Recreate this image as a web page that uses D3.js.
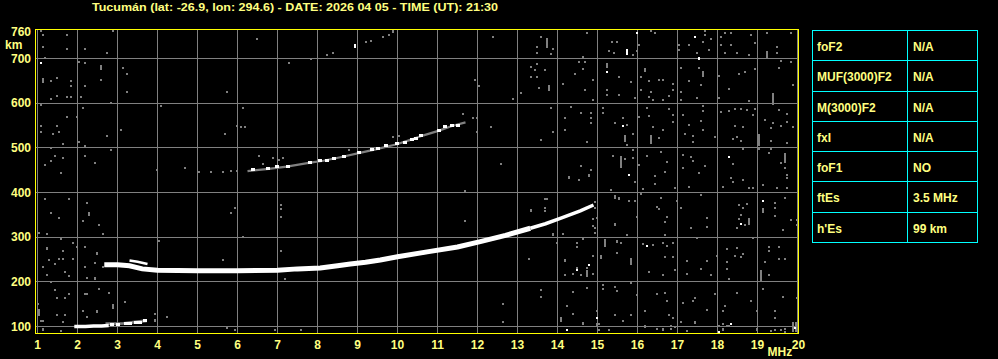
<!DOCTYPE html>
<html><head><meta charset="utf-8">
<script src="https://cdn.jsdelivr.net/npm/d3@7"></script>
<style>
html,body{margin:0;padding:0;background:#000;overflow:hidden}
svg{display:block}
text{font-family:"Liberation Sans",Arial,sans-serif;font-weight:bold;fill:#ffff80}
</style></head><body>
<svg id="c" width="998" height="359"></svg>
<script>
// ---------- DATA ----------
const title = "Tucumán (lat: -26.9, lon: 294.6) - DATE: 2026 04 05 - TIME (UT): 21:30";
const freqTicks = [1,2,3,4,5,6,7,8,9,10,11,12,13,14,15,16,17,18,19,20];
const heightTicks = [100,200,300,400,500,600,700,760];
const gridHeights = [100,200,300,400,500,600,700];
const freqUnit = "MHz";
const heightUnit = "km";

const tableLabels = ["foF2","MUF(3000)F2","M(3000)F2","fxI","foF1","ftEs","h'Es"];
const tableValues = ["N/A","N/A","N/A","N/A","NO","3.5 MHz","99 km"];

// F-layer first-hop trace (MHz, km)
const fTraceFreq   = [2.67,3.0,3.3,3.62,4.0,5.0,6.0,7.0,7.5,8.07,8.5,8.82,9.2,9.57,10.0,10.74,11.5,12.07,12.7,13.32,13.7,14.07,14.57,14.9];
const fTraceHeight = [238,238,236,229,226,225,225,226,229,231,236,240,244,249,256,267,278,290,304,320,330,342,359,372];
// short upper branch near the start of the F trace
const fBranchFreq   = [3.3,3.5,3.75];
const fBranchHeight = [248,245,240];
// second-hop trace
const f2TraceFreq   = [6.25,6.78,7.23,7.82,8.15,8.57,9.03,9.48,9.98,10.36,10.65,11.02,11.36,11.7];
const f2TraceHeight = [448,453,458,467,471,479,488,497,508,519,528,538,549,557];
const f2EchoFreq   = [6.38,6.76,6.99,7.25,7.82,8.05,8.23,8.4,8.65,9.03,9.36,9.52,9.71,9.98,10.18,10.36,10.46,10.58,11.03,11.19,11.36,11.5];
const f2EchoHeight = [450,453,456,458,467,471,471,476,480,488,495,498,503,509,511,517,520,526,538,546,549,550];
// sporadic E trace
const esFreq   = [1.92,2.0,2.2,2.4,2.6,2.78];
const esHeight = [100,100,100,101,101,102];
const esFringeFreq   = [2.7,2.95,3.15,3.35,3.55,3.73];
const esFringeHeight = [106,106,107,109,111,113];
const esEchoFreq   = [2.85,3.0,3.2,3.32,3.45,3.55,3.68];
const esEchoHeight = [103,104,106,105,108,107,113];

// scattered noise (MHz, km)
const noiseDots = [
[1.09,762],[1.14,753],[1.74,753],[2.89,762],[1.14,726],[1.74,722],[2.19,722],[2.74,713],[1.19,701],[2.04,693],[2.19,690],[3.14,679],[3.24,665],[1.34,649],[1.49,656],[1.84,649],[1.84,638],[2.19,638],[2.59,652],[3.24,626],[1.34,609],[1.49,616],[1.74,614],[1.84,613],[2.09,613],[2.84,601],[1.09,595],[2.14,589],[4.09,594],[5.74,626],[6.49,744],[7.29,689],[7.84,699],[8.24,708],[8.39,713],[9.22,737],[9.34,740],[9.64,749],[9.79,753],[12.39,749],[6.14,589],[5.99,549],[6.09,546],[6.19,546],[5.69,531],[1.74,568],[1.99,568],[1.09,549],[1.49,549],[1.09,536],[1.39,531],[1.54,536],[2.74,527],[3.09,540],[2.04,513],[2.19,504],[1.34,500],[1.64,509],[1.44,482],[1.64,477],[2.19,482],[1.34,470],[1.19,462],[2.44,465],[2.84,495],[1.59,443],[3.99,451],[4.69,454],[5.04,446],[5.34,445],[5.64,446],[5.84,449],[5.99,449],[11.94,652],[12.04,638],[11.89,567],[11.99,567],[12.34,546],[11.99,536],[12.59,464],[11.64,576],[9.89,524],[10.04,527],[8.79,495],[6.54,482],[6.89,477],[7.14,477],[7.04,473],[6.64,464],
[13.58,748],[13.48,726],[13.48,713],[13.83,711],[13.88,722],[14.73,757],[15.37,738],[15.48,738],[15.28,717],[15.40,713],[15.88,708],[15.98,717],[16.33,762],[16.43,757],[16.03,731],[17.68,762],[17.68,753],[17.83,744],[17.63,738],[17.03,731],[17.03,719],[17.28,731],[17.48,713],[17.78,719],[18.08,748],[18.18,757],[18.33,757],[18.08,731],[18.33,731],[18.18,713],[18.48,713],[18.83,753],[18.93,735],[18.78,708],[19.23,757],[19.48,726],[19.48,713],[19.83,757],[19.58,695],[19.83,693],[13.48,687],[13.33,680],[13.43,674],[13.68,674],[13.33,658],[13.48,658],[13.53,634],[12.88,610],[13.08,622],[14.63,704],[14.53,693],[14.68,693],[14.63,677],[14.43,666],[14.88,652],[14.68,629],[14.13,643],[14.88,607],[15.53,658],[15.83,647],[15.23,629],[15.23,619],[15.53,619],[15.93,611],[16.08,658],[16.28,649],[16.53,652],[16.63,652],[16.88,643],[16.88,629],[16.33,626],[16.08,629],[16.28,614],[16.38,608],[16.63,608],[16.78,617],[17.08,678],[17.28,649],[17.53,678],[17.58,640],[17.48,611],[17.08,625],[17.08,608],[18.03,661],[18.53,665],[18.68,670],[18.93,677],[18.28,632],[18.03,611],[18.78,604],[19.88,640],[19.53,678],[14.33,592],[14.58,578],[14.18,567],[14.83,578],[14.83,567],[13.83,589],[14.18,540],[13.88,535],[13.58,517],[14.83,555],[14.73,514],[15.13,589],[15.13,577],[15.43,556],[15.73,552],[15.73,506],[15.88,531],[16.28,571],[16.03,568],[16.23,590],[16.38,546],[16.63,540],[16.53,522],[16.78,586],[16.88,574],[16.88,558],[17.13,573],[17.28,552],[17.18,532],[17.38,526],[17.38,512],[17.93,525],[17.63,593],[17.63,582],[17.58,559],[17.63,540],[18.08,580],[18.28,582],[18.43,586],[18.58,586],[18.73,585],[18.93,586],[18.88,573],[18.43,549],[18.63,547],[18.48,525],[18.38,520],[18.58,516],[19.18,562],[19.38,555],[19.33,544],[19.58,550],[19.73,576],[19.73,558],[19.88,547],[19.53,585],[19.33,516],[19.73,510],[12.58,464],[14.28,434],[14.58,459],[14.83,450],[14.78,439],[15.38,482],[15.68,476],[15.88,495],[16.03,462],[15.88,477],[16.23,482],[16.58,491],[16.73,468],[16.43,438],[16.68,446],[17.13,485],[17.13,455],[17.38,470],[17.33,479],[17.68,459],[17.53,443],[18.38,464],[18.63,498],[19.03,497],[19.28,488],[19.33,498],[19.68,455],[19.73,440],[19.58,465],
[14.28,433],[14.53,429],[14.78,438],[15.93,423],[16.43,438],[16.43,420],[16.13,408],[15.33,406],[15.43,388],[15.53,388],[15.78,382],[15.93,380],[16.08,397],[16.58,388],[16.93,409],[17.28,412],[17.58,394],[16.98,382],[17.08,365],[16.48,368],[16.53,363],[16.73,345],[15.98,345],[16.68,335],[16.68,305],[17.33,320],[17.73,342],[17.73,323],[17.48,298],[18.13,412],[18.33,432],[18.38,424],[18.63,427],[18.78,409],[18.88,409],[19.13,417],[19.48,409],[19.73,409],[19.73,433],[19.68,387],[19.43,377],[19.43,365],[19.43,347],[18.73,375],[18.63,365],[18.53,371],[18.58,350],[18.53,341],[18.68,327],[18.48,320],[18.88,298],[19.63,315],[19.83,338],[19.98,338],[19.98,327],[13.73,385],[13.68,365],[13.33,360],[13.88,305],[14.13,308],[14.93,365],[14.88,341],[14.93,320],[15.43,329],[15.73,305],[15.48,289],[15.58,287],[16.13,284],[16.38,283],[16.63,287],[16.73,280],[16.88,287],[14.48,287],[14.48,278],[15.08,257],[15.48,265],[16.28,223],[16.63,216],[16.93,226],[17.23,217],[16.68,256],[16.88,256],[17.23,247],[17.58,229],[17.73,247],[17.83,216],[17.98,257],[18.23,274],[18.48,275],[18.58,256],[18.63,263],[18.43,257],[18.23,244],[18.23,229],[18.28,207],[19.28,216],[19.28,278],[19.28,269],[19.53,278],[19.53,251],[19.18,245],[19.68,251],[14.38,217],[14.18,216],[14.58,216],[14.88,217],[14.18,247],[13.28,251],[15.13,192],[15.43,189],[15.13,183],[15.48,180],[15.83,198],[15.98,171],[13.58,181],[13.58,166],[12.63,151],[14.38,177],[14.73,186],[14.23,147],[14.38,129],[14.63,107],[15.03,105],[14.98,134],[15.43,125],[15.63,113],[15.83,126],[16.18,134],[16.18,101],[16.48,172],[16.68,175],[16.73,156],[16.78,126],[16.88,120],[16.93,99],[17.13,153],[17.38,156],[17.43,163],[17.08,111],[17.43,111],[17.73,138],[17.93,172],[18.18,146],[18.13,134],[18.13,95],[18.48,174],[18.83,156],[18.98,134],[19.43,134],[19.43,120],[19.13,183],[19.63,165],[19.98,163],[12.63,111],[16.48,95],[16.63,95],[16.83,95],[17.23,89],[18.28,102],[18.98,95],[19.33,90],[19.43,93],[19.68,95],[14.98,102],[15.28,93],
[1.18,386],[1.78,386],[2.23,377],[1.33,355],[1.53,342],[2.28,355],[2.13,337],[2.53,328],[1.03,310],[1.23,306],[1.58,297],[1.88,288],[1.63,270],[1.98,279],[2.18,279],[1.28,248],[1.13,234],[1.43,239],[1.53,252],[1.63,252],[1.88,252],[2.18,234],[2.63,234],[1.23,216],[1.68,221],[1.78,212],[2.23,208],[2.43,208],[1.33,199],[2.53,185],[2.78,176],[1.43,181],[1.78,172],[1.48,163],[1.68,163],[2.18,172],[2.88,148],[1.48,126],[1.68,126],[2.48,132],[1.63,109],[1.58,91],[1.13,94],[1.08,112],
[2.43,243],[4.03,292],[5.63,248],[7.08,270],[7.18,207],[2.43,207],[2.23,172],[3.18,155],[2.48,134],[2.23,121],[3.93,128],[4.23,121],[3.93,115],[5.73,97],[5.93,93],[6.93,93],[7.58,93],
[5.83,355],[7.08,373],[7.08,364],[7.08,346],[6.13,301],[2.28,350],[2.63,306],
[11.68,404],[13.68,386],[13.68,359],[13.33,359],[11.68,337],[15.53,386],[15.78,382],[14.98,342],[15.43,328],[14.93,310],[14.88,324],[14.48,288],[14.48,279],[14.63,295],[15.48,292],[15.58,288],[15.48,265],[13.98,288],[14.13,306],[13.88,306],[13.28,252],[14.88,257],[14.18,248],[14.48,230],[14.73,230],
[1.13,112],[1.13,93],[3.93,113],[14.08,112],[14.63,106],[14.98,106],[15.03,93],[16.63,93],[16.83,102],[18.03,102],[18.13,93],[18.13,106],[18.23,102],[18.28,102],[18.98,93],[19.58,93],[19.68,88]
];
// vertical noise streaks [MHz, km low, km high]
const noiseStreaks = [
[2.59,675,686],[1.14,645,656],[9.89,756,765],
[13.73,724,746],[19.23,699,717],[13.78,628,640],[15.23,678,689],[16.18,669,678],[17.63,659,671],[19.38,596,622],[15.63,564,570],[15.68,514,528],[16.33,508,529],[19.03,504,531],[15.58,455,482],[19.68,467,488],
[19.13,353,366],[18.78,327,342],[15.18,278,293],[15.83,238,253],[19.08,201,226],[14.73,211,226],[14.08,110,122],[19.9,88,111],[19.95,88,111],
[1.23,272,279],[2.48,260,266],[1.0,148,152],[1.03,123,139],[2.13,132,136],[2.88,140,148],[5.93,362,368],
[15.43,386,395],[14.93,376,382],[15.18,279,297],[15.08,252,257],
[16.18,97,103],[17.43,106,111]
];
// isolated strong (white) echoes
const whiteDots = [[1.09,689],[15.98,757],[17.43,748],[15.23,669],[15.63,550],[15.78,440],[18.28,479],[19.13,381],[18.58,329],[16.23,281],[14.48,227],[14.78,237],[14.98,120],[18.33,105],[14.23,93],[18.03,88],[19.93,97]];
const whiteStreaks = [[8.94,723,732],[15.73,708,722],[17.53,696,704]];

// ---------- DRAW ----------
const svg = d3.select("#c");
svg.append("rect").attr("width",998).attr("height",359).attr("fill","#000");

const xs = d3.scaleLinear().domain([1,20]).range([37.5,797.5]);
const ys = d3.scaleLinear().domain([100,700]).range([326.5,58.5]);
const px = v => Math.round(xs(v));
const py = v => Math.round(ys(v));

const GRAY = "#808080", YEL = "#ffff00", CYAN = "#00ffff";

// grid
const grid = svg.append("g").attr("shape-rendering","crispEdges");
grid.selectAll("line.v").data(freqTicks).join("line").attr("class","v")
  .attr("x1",d=>xs(d)).attr("x2",d=>xs(d)).attr("y1",30).attr("y2",333)
  .attr("stroke",GRAY).attr("stroke-width",1);
grid.selectAll("line.h").data(gridHeights).join("line").attr("class","h")
  .attr("x1",36).attr("x2",798).attr("y1",d=>ys(d)).attr("y2",d=>ys(d))
  .attr("stroke",GRAY).attr("stroke-width",1);

// noise
const marks = svg.append("g").attr("shape-rendering","crispEdges");
marks.selectAll("rect.n").data(noiseDots).join("rect").attr("class","n")
  .attr("x",d=>px(d[0])-1).attr("y",d=>py(d[1])-1).attr("width",2).attr("height",2).attr("fill",GRAY);
marks.selectAll("rect.s").data(noiseStreaks).join("rect").attr("class","s")
  .attr("x",d=>px(d[0])-1).attr("y",d=>py(d[2])).attr("width",2).attr("height",d=>Math.max(2,py(d[1])-py(d[2]))).attr("fill",GRAY);

// traces
const line = d3.line().x(d=>xs(d[0])).y(d=>ys(d[1]));
const zip = (a,b)=>a.map((v,i)=>[v,b[i]]);
const traces = svg.append("g");
const echoes = svg.append("g").attr("shape-rendering","crispEdges");

// second hop: gray fringe then white echoes
traces.append("path").datum(zip(f2TraceFreq,f2TraceHeight)).attr("d",line)
  .attr("fill","none").attr("stroke",GRAY).attr("stroke-width",2.2);
echoes.selectAll("rect.f2").data(zip(f2EchoFreq,f2EchoHeight)).join("rect").attr("class","f2")
  .attr("x",d=>px(d[0])-2).attr("y",d=>py(d[1])-2).attr("width",4).attr("height",3).attr("fill","#fff");

// first hop F trace
const fPts = zip(fTraceFreq,fTraceHeight);
traces.append("path").datum(fPts.filter(d=>d[0]<=13.4)).attr("d",line)
  .attr("fill","none").attr("stroke","#fff").attr("stroke-width",5);
traces.append("path").datum(fPts.filter(d=>d[0]>=13.32)).attr("d",line)
  .attr("fill","none").attr("stroke","#fff").attr("stroke-width",3.5);
traces.append("path").datum(zip(fBranchFreq,fBranchHeight)).attr("d",line)
  .attr("fill","none").attr("stroke","#fff").attr("stroke-width",2.5);

// Es trace
traces.append("path").datum(zip(esFringeFreq,esFringeHeight)).attr("d",line)
  .attr("fill","none").attr("stroke",GRAY).attr("stroke-width",3);
traces.append("path").datum(zip(esFreq,esHeight)).attr("d",line)
  .attr("fill","none").attr("stroke","#fff").attr("stroke-width",3.5);
echoes.selectAll("rect.es").data(zip(esEchoFreq,esEchoHeight)).join("rect").attr("class","es")
  .attr("x",d=>px(d[0])-2).attr("y",d=>py(d[1])-2).attr("width",4).attr("height",3).attr("fill","#fff");

// white isolated echoes
echoes.selectAll("rect.w").data(whiteDots).join("rect").attr("class","w")
  .attr("x",d=>px(d[0])-1).attr("y",d=>py(d[1])-1).attr("width",2).attr("height",2).attr("fill","#fff");
echoes.selectAll("rect.ws").data(whiteStreaks).join("rect").attr("class","ws")
  .attr("x",d=>px(d[0])-1).attr("y",d=>py(d[2])).attr("width",2).attr("height",d=>py(d[1])-py(d[2])).attr("fill","#fff");

// frame
svg.append("rect").attr("x",35.5).attr("y",29.5).attr("width",763).attr("height",304)
  .attr("fill","none").attr("stroke",YEL).attr("stroke-width",1).attr("shape-rendering","crispEdges");

// axes labels
svg.selectAll("text.yl").data(heightTicks).join("text").attr("class","yl")
  .attr("x",31).attr("y",d=>ys(d)+4.3).attr("text-anchor","end").attr("font-size",12).text(d=>d);
svg.append("text").attr("x",5).attr("y",49).attr("font-size",12).text(heightUnit);
svg.selectAll("text.xl").data(freqTicks).join("text").attr("class","xl")
  .attr("x",d=>xs(d)+(d===20?1:0)).attr("y",348.5).attr("text-anchor","middle").attr("font-size",12).text(d=>d);
svg.append("text").attr("x",767.5).attr("y",356).attr("font-size",12).text(freqUnit);

// title
svg.append("text").attr("x",92).attr("y",10.5).attr("font-size",11)
  .attr("textLength",406).attr("lengthAdjust","spacingAndGlyphs").text(title);

// parameter table
const rowY = d3.scaleLinear().domain([0,7]).range([30,242]);
const ry = i => Math.round(rowY(i))+0.5;
const tbl = svg.append("g");
tbl.append("rect").attr("x",812.5).attr("y",ry(0)).attr("width",165).attr("height",ry(7)-ry(0))
  .attr("fill","none").attr("stroke",CYAN).attr("shape-rendering","crispEdges");
tbl.append("line").attr("x1",907.5).attr("x2",907.5).attr("y1",ry(0)).attr("y2",ry(7))
  .attr("stroke",CYAN).attr("shape-rendering","crispEdges");
tbl.selectAll("line.r").data(d3.range(1,7)).join("line").attr("class","r")
  .attr("x1",812.5).attr("x2",977.5).attr("y1",d=>ry(d)).attr("y2",d=>ry(d))
  .attr("stroke",CYAN).attr("shape-rendering","crispEdges");
tbl.selectAll("text.tl").data(tableLabels).join("text").attr("class","tl")
  .attr("x",817).attr("y",(d,i)=>(ry(i)+ry(i+1))/2+5).attr("font-size",12).text(d=>d);
tbl.selectAll("text.tv").data(tableValues).join("text").attr("class","tv")
  .attr("x",913).attr("y",(d,i)=>(ry(i)+ry(i+1))/2+5).attr("font-size",12).text(d=>d);
</script>
</body></html>
